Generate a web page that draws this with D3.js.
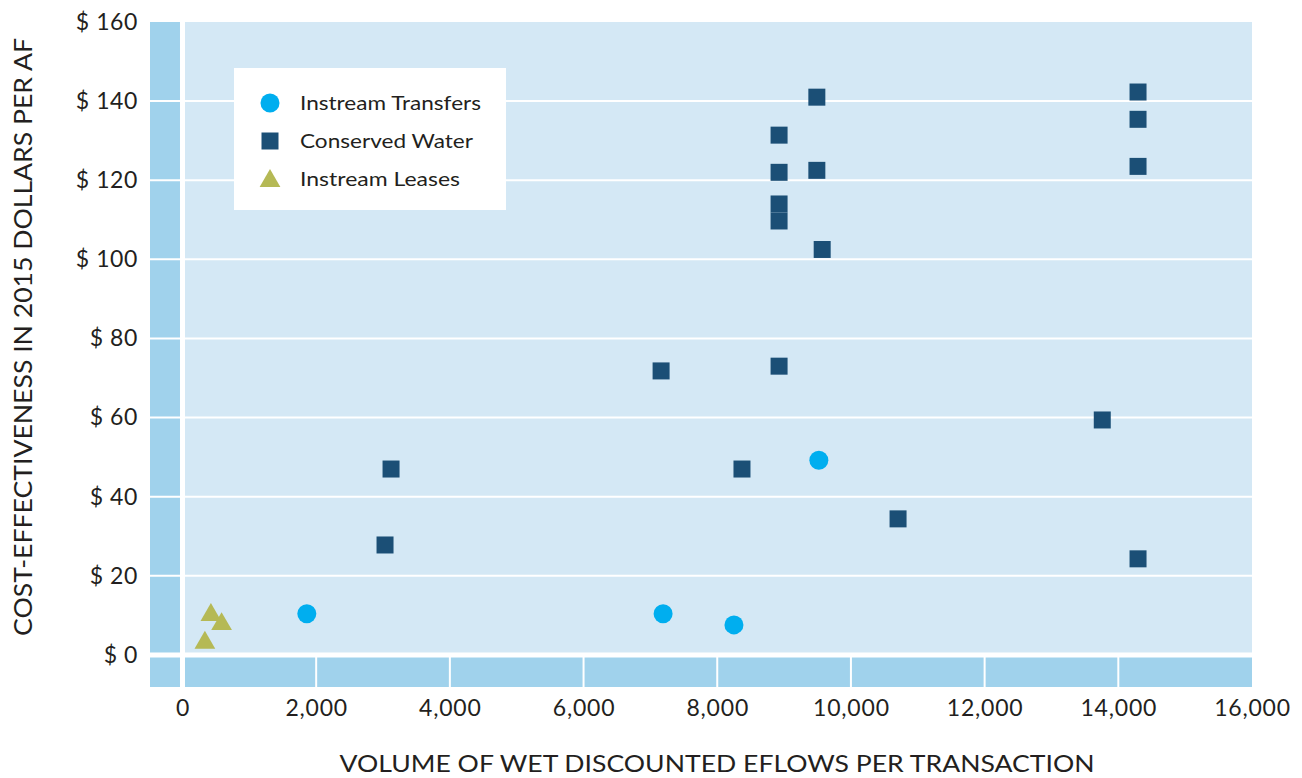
<!DOCTYPE html>
<html>
<head>
<meta charset="utf-8">
<script src="https://cdn.jsdelivr.net/npm/d3@7"></script>
<style>
  html, body { margin: 0; padding: 0; background: #ffffff; }
  svg { display: block; font-family: Lato, "Open Sans", sans-serif; }
</style>
</head>
<body>
<svg id="chart" width="1302" height="778"></svg>
<script>
// ---- data ----
const transfersX = [9520, 1860, 7190, 8250];
const transfersY = [49.2, 10.4, 10.4, 7.6];

const conservedX = [14295, 14295, 14295, 9490, 8925, 8925, 9490, 8925, 8925, 9570, 7160, 8925, 13760, 3120, 8370, 10705, 3030, 14295];
const conservedY = [142.3, 135.4, 123.5, 141.0, 131.4, 122.0, 122.5, 114.0, 109.7, 102.5, 71.8, 73.0, 59.4, 47.0, 47.0, 34.4, 27.8, 24.3];

const leasesX = [425, 585, 335];
const leasesY = [10.1, 7.8, 3.1];

const xTicks = [0, 2000, 4000, 6000, 8000, 10000, 12000, 14000, 16000];
const yTicks = [0, 20, 40, 60, 80, 100, 120, 140, 160];

const seriesNames = ["Instream Transfers", "Conserved Water", "Instream Leases"];
const seriesColors = ["#00aeef", "#1b4f76", "#b5b955"];

// ---- layout ----
const svg = d3.select("#chart");
const pLeft = 150, pRight = 1252, pTop = 22, pBottom = 687;

const x = d3.scaleLinear().domain([-486, 16000]).range([pLeft, pRight]);
const y = d3.scaleLinear().domain([-8.1, 160]).range([pBottom, pTop]);

const lightBlue = "#d4e8f5", darkBlue = "#a0d2ec";

// background
svg.append("rect").attr("x", pLeft).attr("y", pTop).attr("width", pRight - pLeft).attr("height", pBottom - pTop).attr("fill", lightBlue);
// negative-x band
svg.append("rect").attr("x", pLeft).attr("y", pTop).attr("width", x(0) - pLeft).attr("height", pBottom - pTop).attr("fill", darkBlue);
// negative-y band
svg.append("rect").attr("x", pLeft).attr("y", y(0)).attr("width", pRight - pLeft).attr("height", pBottom - y(0)).attr("fill", darkBlue);

// horizontal gridlines
svg.append("g").selectAll("line").data(yTicks.filter(d => d > 0 && d < 160)).join("line")
  .attr("x1", pLeft).attr("x2", pRight)
  .attr("y1", d => y(d)).attr("y2", d => y(d))
  .attr("stroke", "#ffffff").attr("stroke-width", 2);

// vertical gridlines in the bottom band
svg.append("g").selectAll("line").data(xTicks.filter(d => d > 0 && d < 16000)).join("line")
  .attr("x1", d => x(d)).attr("x2", d => x(d))
  .attr("y1", y(0)).attr("y2", pBottom)
  .attr("stroke", "#ffffff").attr("stroke-width", 2);

// zero lines
svg.append("line").attr("x1", pLeft).attr("x2", pRight).attr("y1", y(0)).attr("y2", y(0))
  .attr("stroke", "#ffffff").attr("stroke-width", 5);
svg.append("line").attr("x1", x(0)).attr("x2", x(0)).attr("y1", pTop).attr("y2", pBottom)
  .attr("stroke", "#ffffff").attr("stroke-width", 5);

// axes (labels only)
const textColor = "#231f20";
const xAxis = svg.append("g").attr("transform", `translate(0,${pBottom})`)
  .call(d3.axisBottom(x).tickValues(xTicks).tickSize(0).tickPadding(13).tickFormat(d3.format(",")));
xAxis.select(".domain").remove();
xAxis.selectAll("text").attr("font-size", 23).attr("fill", textColor).attr("font-family", "Lato, sans-serif")
  .attr("letter-spacing", 0.8);

const yAxis = svg.append("g").attr("transform", `translate(${pLeft},0)`)
  .call(d3.axisLeft(y).tickValues(yTicks).tickSize(0).tickPadding(12).tickFormat(d => "$ " + d));
yAxis.select(".domain").remove();
yAxis.selectAll("text").attr("font-size", 23).attr("fill", textColor).attr("font-family", "Lato, sans-serif")
  .attr("letter-spacing", 0.6);

// axis titles
svg.append("text").attr("x", 717).attr("y", 772)
  .attr("text-anchor", "middle").attr("font-size", 24).attr("fill", textColor)
  .attr("textLength", 755).attr("lengthAdjust", "spacingAndGlyphs")
  .text("VOLUME OF WET DISCOUNTED EFLOWS PER TRANSACTION");
svg.append("text").attr("transform", "translate(32,337) rotate(-90)")
  .attr("text-anchor", "middle").attr("font-size", 25).attr("fill", textColor)
  .attr("textLength", 598).attr("lengthAdjust", "spacingAndGlyphs")
  .text("COST-EFFECTIVENESS IN 2015 DOLLARS PER AF");

// marks
const circleSym = d3.symbol().type(d3.symbolCircle).size(284);
const squareSym = d3.symbol().type(d3.symbolSquare).size(289);
const triSym = d3.symbol().type(d3.symbolTriangle).size(186);

svg.append("g").selectAll("path").data(d3.range(conservedX.length)).join("path")
  .attr("d", squareSym).attr("fill", seriesColors[1])
  .attr("transform", i => `translate(${x(conservedX[i])},${y(conservedY[i])})`);

svg.append("g").selectAll("path").data(d3.range(transfersX.length)).join("path")
  .attr("d", circleSym).attr("fill", seriesColors[0])
  .attr("transform", i => `translate(${x(transfersX[i])},${y(transfersY[i])})`);

svg.append("g").selectAll("path").data(d3.range(leasesX.length)).join("path")
  .attr("d", triSym).attr("fill", seriesColors[2])
  .attr("transform", i => `translate(${x(leasesX[i])},${y(leasesY[i])})`);

// legend
const lg = svg.append("g");
lg.append("rect").attr("x", 234).attr("y", 68).attr("width", 272).attr("height", 142).attr("fill", "#ffffff");
const syms = [circleSym, squareSym, triSym];
const legendRows = [103, 141, 179];
const legendWidths = [181, 173, 160];
seriesNames.forEach((name, i) => {
  lg.append("path").attr("d", syms[i]).attr("fill", seriesColors[i])
    .attr("transform", `translate(270,${legendRows[i] + (i === 2 ? 2 : 0)})`);
  lg.append("text").attr("x", 300).attr("y", legendRows[i]).attr("dy", "0.35em")
    .attr("font-size", 19).attr("fill", textColor)
    .attr("textLength", legendWidths[i]).attr("lengthAdjust", "spacingAndGlyphs")
    .text(name);
});
</script>
</body>
</html>
